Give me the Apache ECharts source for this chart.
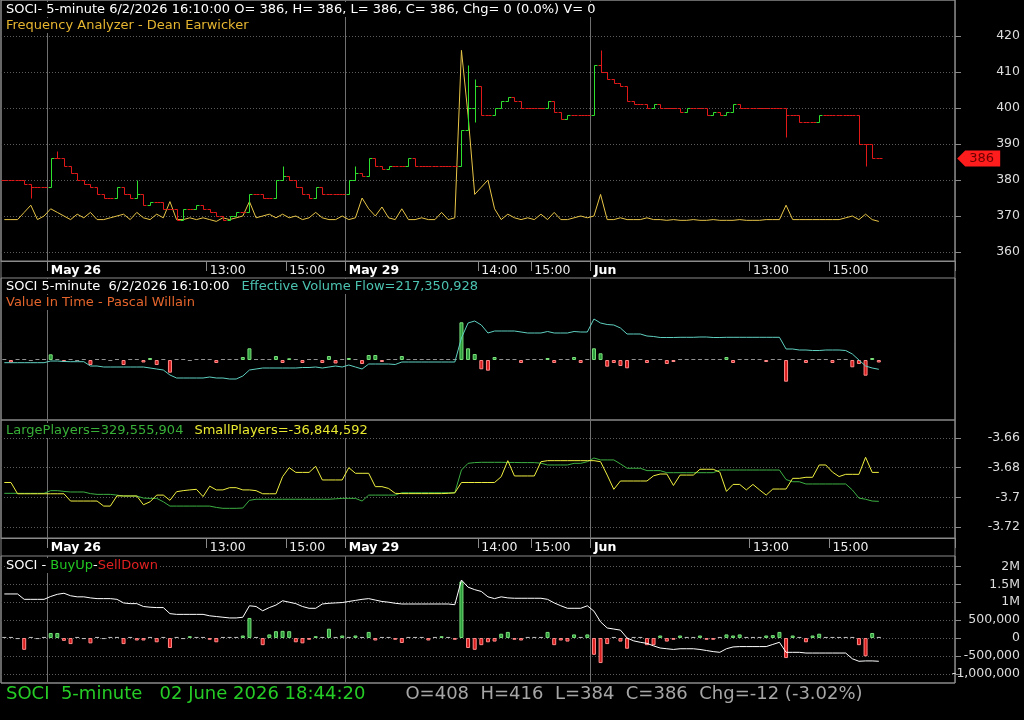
<!DOCTYPE html>
<html>
<head>
<meta charset="utf-8">
<title>SOCI 5-minute</title>
<script src="https://cdn.jsdelivr.net/npm/echarts@6/dist/echarts.min.js"></script>
<style>
  html, body { margin: 0; padding: 0; background: #000; }
  #chart { width: 1024px; height: 720px; }
</style>
</head>
<body>
<div id="chart"></div>
<script>
const chart = echarts.init(document.getElementById('chart'));

// 10-minute slots, 144 across the plot (last ones are empty space)
const slotCount = 144;
const tickSlots = [7, 31, 43, 52, 72, 80, 89, 113, 125];
const tickLabels = ['May 26', '13:00', '15:00', 'May 29', '14:00', '15:00', 'Jun', '13:00', '15:00'];
const daySlots = [7, 52, 89];

const priceTicks = [360, 370, 380, 390, 400, 410, 420];
const playerTicks = [-3.72, -3.7, -3.68, -3.66];
const flowTicks = [-1, -0.5, 0, 0.5, 1, 1.5, 2];
const flowTickLabels = ['-1,000,000', '-500,000', '0', '500,000', '1M', '1.5M', '2M'];

// price closes per slot
const closes = [
  380,380,380,379,378,378,378,386,386,384,
  382,380,379,378,376,375,375,378,376,375,
  376,373,374,374,372,372,369,372,372,373,
  372,371,370,369,370,371,371,376,376,375,
  375,380,381,380,378,376,375,378,376,376,
  376,376,380,382,381,386,384,383,384,384,
  384,386,384,384,384,384,384,384,384,394,
  400,406,398,398,400,402,403,402,400,400,
  400,400,402,399,397,398,398,398,398,412,
  410,408,407,406,402,401,401,400,401,400,
  400,400,399,400,400,400,398,399,398,399,
  401,400,400,400,400,400,400,400,398,398,
  396,396,396,398,398,398,398,398,398,390,
  390,386,386
];
const wickHigh = [[8, 388], [20, 380], [42, 384], [53, 384], [70, 412], [71, 408], [90, 416]];
const wickLow = [[4, 375], [71, 396], [118, 392], [130, 384]];

// Frequency Analyzer (price scale)
const freq = [
  369,369,369,371,373,369,370,372,371,370,
  369,370.5,369.5,371,369,369,369.5,370,370.5,369,
  371,369.5,369,370.5,369.5,374,369,369,369.5,369,
  369.5,369,368.5,369.5,369,369.5,370,374,369.5,370,
  370.5,369.5,370.5,369.5,370,369,369.5,371,369.5,369,
  369,370,369,369.5,375,372,370,372.5,369.5,369,
  372,369,369,369.5,369,369,371,369,369.5,416,
  398,376,378,380,372,369,370.5,369.5,369,369.5,
  369,370.5,369,371,369,369,369.5,370,369.5,370,
  376,369,369,369.5,369,369,369,369.5,369,369,
  368.8,369,368.8,368.8,369,368.8,368.8,369,368.8,368.8,
  368.8,369,368.8,368.8,368.8,369,369,369,373,369,
  369,369,369,369,369,369,369,369.5,370,369,
  370.5,369,368.5
];

// Effective Volume Flow (relative units) and Value In Time histogram
const evf = [
  -2.7,-2.7,-2.7,-2.7,-2.7,-2.7,-2.7,-1,-1,-1.5,
  -1.7,-1.7,-1.7,-6,-6,-7,-7,-7,-7,-7,
  -7,-7,-8,-9,-10,-15,-18,-18,-18,-18,
  -18,-17,-18,-18,-19,-19,-16,-10,-9,-8,
  -8,-8,-8,-8,-8,-7.5,-7.5,-7,-8,-7,
  -6,-7,-5,-7,-9,-4,-4,-4,-4,-4.5,
  -2,-2,-2,-2,-2,-2,-2,-2,-2,22,
  37,39,35,27,29,29,29,29,28,27,
  27,27,28.5,27,27,27,28.5,28,28,41,
  37,35.5,35,32,26,26,26,24,23.5,22.5,
  22.5,22.5,22.7,22.7,22.7,23,23,22.5,22.5,22.7,
  22.7,22.7,22.7,22.7,22.7,22.7,22.7,22.7,11,11,
  10,10,9.5,9.5,10,10,10,9.5,6,0,
  -6,-8,-9.3
];
const valueInTime = [
  0.8,-2.5,0.8,0.8,-0.8,0.8,0.8,5.7,0.8,-2,
  0.8,-0.8,0.8,-5,0.8,0.8,-0.8,0.8,-5,0.8,
  0.8,-2.5,2,-5,0.8,-12.7,0.8,0.8,-0.8,0.8,
  0.8,0.8,-3,0.8,0.8,0.8,3,11.7,0.8,0.8,
  0.8,4,-3,1.7,0.8,-3,0.8,0.8,-3,4,
  -3.5,0.8,2,0.8,-4,5,5,-2,0.8,0.8,
  4,0.8,0.8,0.8,0.8,0.8,0.8,0.8,0.8,37.7,
  11.7,6,-9.3,-10.7,3,0.8,0.8,0.8,-3,0.8,
  0.8,0.8,2,-3,0.8,0.8,3,-3,0.8,11.7,
  6.7,-6.7,-3,-6,-8.3,0.8,0.8,-3,0.8,0.8,
  -4,-2,0.8,0.8,0.8,0.8,0.8,0.8,0.8,3,
  -3,0.8,0.8,0.8,0.8,-2,0.8,0.8,-21.7,0.8,
  0.8,-3,0.8,0.8,0.8,-3,0.8,0.8,-7.3,-4,
  -15.7,2,-2.5
];

// LargePlayers / SmallPlayers
const largePlayers = [
  -3.6973,-3.6973,-3.6973,-3.6973,-3.6973,-3.6973,-3.6973,-3.6955,-3.6955,-3.696,
  -3.6964,-3.6964,-3.6964,-3.6975,-3.698,-3.698,-3.698,-3.6985,-3.6991,-3.6991,
  -3.6991,-3.7005,-3.7007,-3.7007,-3.703,-3.7059,-3.7059,-3.7059,-3.7059,-3.7059,
  -3.7059,-3.7059,-3.7068,-3.7074,-3.7074,-3.7074,-3.7072,-3.702,-3.7013,-3.7013,
  -3.7013,-3.7013,-3.7013,-3.7013,-3.7013,-3.7013,-3.7013,-3.7013,-3.7013,-3.7013,
  -3.701,-3.7007,-3.7007,-3.7007,-3.7025,-3.6985,-3.6985,-3.6985,-3.6985,-3.6985,
  -3.6969,-3.6969,-3.6969,-3.6969,-3.6969,-3.6969,-3.6969,-3.6969,-3.6969,-3.6816,
  -3.6771,-3.6766,-3.6764,-3.6764,-3.6764,-3.6764,-3.6765,-3.6765,-3.6766,-3.6766,
  -3.6766,-3.677,-3.6782,-3.6782,-3.6782,-3.6782,-3.6771,-3.6771,-3.676,-3.6735,
  -3.6748,-3.6748,-3.6748,-3.6775,-3.6804,-3.6804,-3.6804,-3.682,-3.682,-3.682,
  -3.6834,-3.6834,-3.6834,-3.6834,-3.6834,-3.6834,-3.6834,-3.6834,-3.6816,-3.6816,
  -3.6816,-3.6816,-3.6816,-3.6816,-3.6816,-3.6816,-3.6816,-3.6816,-3.688,-3.6895,
  -3.6895,-3.691,-3.691,-3.691,-3.691,-3.691,-3.691,-3.691,-3.695,-3.7005,
  -3.7013,-3.7025,-3.7027
];
const smallPlayers = [
  -3.69,-3.69,-3.6976,-3.6976,-3.6976,-3.6976,-3.6976,-3.6976,-3.6976,-3.6976,
  -3.7025,-3.7025,-3.7025,-3.7025,-3.7025,-3.7059,-3.7059,-3.699,-3.6991,-3.6991,
  -3.6991,-3.705,-3.703,-3.6985,-3.6985,-3.702,-3.6962,-3.6955,-3.695,-3.6946,
  -3.6995,-3.6925,-3.695,-3.695,-3.6935,-3.6935,-3.695,-3.695,-3.6955,-3.6976,
  -3.6976,-3.6976,-3.6861,-3.68,-3.6832,-3.6832,-3.6832,-3.6791,-3.6883,-3.6883,
  -3.6883,-3.6883,-3.68,-3.6838,-3.6838,-3.6838,-3.6928,-3.6928,-3.694,-3.6973,
  -3.6975,-3.6975,-3.6975,-3.6975,-3.6975,-3.6975,-3.6975,-3.6973,-3.697,-3.69,
  -3.69,-3.69,-3.69,-3.69,-3.69,-3.6861,-3.6753,-3.6856,-3.6856,-3.6856,
  -3.6856,-3.676,-3.6753,-3.6753,-3.6753,-3.6753,-3.6753,-3.6753,-3.6753,-3.6753,
  -3.676,-3.685,-3.6946,-3.689,-3.689,-3.689,-3.689,-3.689,-3.6855,-3.6843,
  -3.6843,-3.692,-3.685,-3.685,-3.685,-3.6811,-3.6811,-3.6811,-3.683,-3.696,
  -3.6913,-3.6913,-3.695,-3.6913,-3.695,-3.6985,-3.6944,-3.6944,-3.6944,-3.6872,
  -3.6872,-3.6865,-3.6865,-3.6782,-3.6782,-3.683,-3.686,-3.6845,-3.6845,-3.6845,
  -3.673,-3.6832,-3.6832
];

// BuyUp-SellDown (millions): cumulative line and per-slot histogram
const buyLine = [
  1.23,1.23,1.23,1.08,1.08,1.08,1.08,1.16,1.22,1.25,
  1.18,1.15,1.15,1.12,1.1,1.1,1.1,1.08,0.98,0.96,
  0.96,0.88,0.86,0.85,0.85,0.68,0.66,0.66,0.66,0.66,
  0.66,0.62,0.6,0.58,0.56,0.56,0.58,0.9,0.88,0.76,
  0.85,0.92,1.04,1.0,0.96,0.88,0.83,0.83,0.95,0.97,
  0.98,0.99,1.02,1.05,1.08,1.1,1.06,1.02,1.0,0.97,
  0.95,0.95,0.95,0.95,0.95,0.95,0.95,0.95,0.93,1.62,
  1.42,1.35,1.3,1.15,1.1,1.15,1.12,1.11,1.11,1.11,
  1.11,1.11,1.08,0.98,0.9,0.83,0.83,0.83,0.9,0.75,
  0.45,0.28,0.25,0.22,0.0,-0.08,-0.12,-0.15,-0.22,-0.28,
  -0.3,-0.32,-0.3,-0.3,-0.3,-0.32,-0.35,-0.38,-0.4,-0.3,
  -0.25,-0.24,-0.24,-0.24,-0.24,-0.24,-0.18,-0.12,-0.4,-0.4,
  -0.4,-0.42,-0.42,-0.42,-0.42,-0.42,-0.42,-0.42,-0.58,-0.65,
  -0.64,-0.64,-0.65
];
const buySell = [
  0.03,0.03,-0.03,-0.33,0.03,-0.03,0.03,0.14,0.14,-0.08,
  -0.17,0.03,-0.03,-0.15,0.03,-0.03,0.03,0.03,-0.17,0.03,
  -0.07,-0.07,0.03,-0.12,0.03,-0.28,0.03,-0.03,0.05,0.03,
  0.03,-0.05,-0.12,0.03,0.03,0.03,0.07,0.56,0.03,-0.2,
  0.1,0.19,0.2,0.19,-0.12,-0.15,-0.05,0.05,0.03,0.26,
  0.03,0.07,0.03,0.07,0.03,0.17,-0.07,0.03,0.03,-0.05,
  -0.14,0.03,0.03,0.03,-0.07,0.03,0.05,0.03,-0.05,1.58,
  -0.28,-0.33,-0.2,-0.12,-0.1,0.12,0.17,-0.05,-0.07,0.03,
  0.03,0.03,0.17,-0.2,-0.07,-0.1,0.1,0.03,0.1,-0.47,
  -0.7,-0.17,0.03,-0.1,-0.3,0.03,0.03,-0.2,-0.2,0.07,
  -0.1,-0.05,0.07,0.03,0.03,0.07,-0.05,-0.05,0.03,0.1,
  0.07,0.1,0.03,0.03,0.03,0.07,0.08,0.17,-0.56,0.07,
  0.03,-0.12,0.07,0.12,0.03,0.03,0.03,0.03,0.03,-0.2,
  -0.51,0.14,0.03
];

const FONT = 'DejaVu Sans';
const UP = '#2ee02e';
const DOWN = '#e01818';
const GRID_LINE = { color: '#5c5c5c', type: [1, 2] };
const BORDER = '#8a8a8a';

const slots = Array.from({ length: slotCount }, (_, i) => String(i));

// OHLC bars: open at previous close, wicks where the picture shows them
const ohlc = closes.map((c, i) => {
  const o = i === 0 ? c : closes[i - 1];
  let lo = Math.min(o, c), hi = Math.max(o, c);
  wickHigh.forEach(([k, v]) => { if (k === i) hi = Math.max(hi, v); });
  wickLow.forEach(([k, v]) => { if (k === i) lo = Math.min(lo, v); });
  return [i, o, c, lo, hi];
});
const lastClose = closes[closes.length - 1];

function crisp(v) { return Math.round(v) + 0.5; }

function renderBar(params, api) {
  const i = api.value(0);
  const o = api.value(1), c = api.value(2), lo = api.value(3), hi = api.value(4);
  const half = Math.round(api.size([1, 0])[0] / 2);
  const x = crisp(api.coord([i, c])[0]);
  const yo = crisp(api.coord([i, o])[1]);
  const yc = crisp(api.coord([i, c])[1]);
  const yl = crisp(api.coord([i, lo])[1]);
  const yh = crisp(api.coord([i, hi])[1]);
  const style = { stroke: c > o ? UP : DOWN, lineWidth: 1 };
  return {
    type: 'group',
    children: [
      { type: 'line', shape: { x1: x, y1: yl, x2: x, y2: yh }, style },
      { type: 'line', shape: { x1: x - half, y1: yo, x2: x, y2: yo }, style },
      { type: 'line', shape: { x1: x, y1: yc, x2: x + half, y2: yc }, style }
    ]
  };
}

function histItems(values, threshold) {
  return values.map(v => {
    let itemStyle;
    if (v > threshold) itemStyle = { color: '#2a9a3a', borderColor: '#7be07b', borderWidth: 1 };
    else if (v < -threshold) itemStyle = { color: '#d81c1c', borderColor: '#ff8a8a', borderWidth: 1 };
    else itemStyle = { color: '#b8b8b8' };
    return { value: v, itemStyle };
  });
}

function xAxisFor(gridIndex, labeled) {
  return {
    gridIndex,
    type: 'category',
    data: slots,
    boundaryGap: true,
    axisLine: { show: labeled, lineStyle: { color: BORDER } },
    axisTick: {
      show: labeled,
      interval: (i) => tickSlots.includes(i),
      length: 10,
      lineStyle: { color: BORDER }
    },
    axisLabel: {
      show: labeled,
      interval: (i) => tickSlots.includes(i),
      align: 'left',
      margin: 3,
      formatter: (val, i) => {
        const k = tickSlots.indexOf(+val);
        if (k < 0) return '';
        return daySlots.includes(+val) ? '{d|' + tickLabels[k] + '}' : '{t|' + tickLabels[k] + '}';
      },
      rich: {
        d: { color: '#ffffff', fontFamily: FONT, fontSize: 12.5, fontWeight: 'bold' },
        t: { color: '#ececec', fontFamily: FONT, fontSize: 12.5 }
      }
    },
    splitLine: {
      show: true,
      interval: (i) => daySlots.includes(i),
      lineStyle: { color: '#707070', width: 1 }
    }
  };
}

function rightAxis(gridIndex, min, max, ticks, formatter) {
  return {
    gridIndex,
    type: 'value',
    position: 'right',
    min, max,
    axisLine: { show: false },
    axisTick: { show: true, customValues: ticks, length: 6, lineStyle: { color: BORDER } },
    axisLabel: {
      customValues: ticks,
      color: '#dddddd',
      fontFamily: FONT,
      fontSize: 12.5,
      align: 'right',
      margin: 65,
      formatter
    },
    splitLine: { show: true, lineStyle: GRID_LINE }
  };
}

function titleLine(top, text, rich, fontSize) {
  return {
    left: 6, top, padding: [1, 2, 1, 0],
    backgroundColor: '#000',
    text,
    textStyle: { fontFamily: FONT, fontSize: fontSize || 13, fontWeight: 'normal', rich }
  };
}

const T = (color, extra) => Object.assign({ color, fontFamily: FONT, fontSize: 13 }, extra || {});

chart.setOption({
  backgroundColor: '#000',
  animation: false,
  title: [
    titleLine(2, '{w|SOCI- 5-minute 6/2/2026 16:10:00 O= 386, H= 386, L= 386, C= 386, Chg= 0 (0.0%) V= 0}', { w: T('#ffffff') }),
    titleLine(18, '{y|Frequency Analyzer - Dean Earwicker}', { y: T('#e6b530') }),
    titleLine(279, '{w|SOCI 5-minute  6/2/2026 16:10:00}{c|Effective Volume Flow=217,350,928}',
      { w: T('#ffffff'), c: T('#4cc2b0', { padding: [0, 0, 0, 12] }) }),
    titleLine(295, '{o|Value In Time - Pascal Willain}', { o: T('#e4652c') }),
    titleLine(423, '{g|LargePlayers=329,555,904}{y|SmallPlayers=-36,844,592}',
      { g: T('#38b038'), y: T('#e8e830', { padding: [0, 0, 0, 11] }) }),
    titleLine(558, '{w|SOCI - }{g|BuyUp}{w|-}{r|SellDown}',
      { w: T('#ffffff'), g: T('#22c822'), r: T('#e02020') }),
    titleLine(684, '{g|SOCI  5-minute   02 June 2026 18:44:20}{s|O=408  H=416  L=384  C=386  Chg=-12 (-3.02%)}',
      { g: T('#26cc26', { fontSize: 18 }), s: T('#a6a6a6', { fontSize: 18, padding: [0, 0, 0, 40] }) }, 18)
  ],
  grid: [
    { left: 1, right: 69, top: 0, height: 261, show: true, borderColor: BORDER, backgroundColor: 'transparent' },
    { left: 1, right: 69, top: 278, height: 142, show: true, borderColor: BORDER, backgroundColor: 'transparent' },
    { left: 1, right: 69, top: 420, height: 118, show: true, borderColor: BORDER, backgroundColor: 'transparent' },
    { left: 1, right: 69, top: 556, height: 127, show: true, borderColor: BORDER, backgroundColor: 'transparent' },
    { left: 1, right: 69, top: 0, height: 683, show: true, borderColor: BORDER, backgroundColor: 'transparent' }
  ],
  xAxis: [
    xAxisFor(0, true),
    xAxisFor(1, false),
    xAxisFor(2, true),
    xAxisFor(3, false),
    { gridIndex: 4, type: 'value', show: false }
  ],
  yAxis: [
    rightAxis(0, 357.5, 430, priceTicks, v => String(Math.round(v))),
    { gridIndex: 1, type: 'value', min: -60, max: 82, show: false },
    rightAxis(2, -3.7274, -3.6479, playerTicks, v => String(+(+v).toFixed(2))),
    rightAxis(3, -1.257, 2.2905, flowTicks, v => {
      let best = 0;
      flowTicks.forEach((t, k) => { if (Math.abs(t - v) < Math.abs(flowTicks[best] - v)) best = k; });
      return flowTickLabels[best];
    }),
    { gridIndex: 4, type: 'value', show: false }
  ],
  series: [
    {
      name: 'SOCI',
      type: 'custom',
      xAxisIndex: 0, yAxisIndex: 0,
      renderItem: renderBar,
      encode: { x: 0, y: [1, 2, 3, 4] },
      data: ohlc,
      z: 3
    },
    {
      name: 'Frequency Analyzer',
      type: 'line',
      xAxisIndex: 0, yAxisIndex: 0,
      data: freq,
      symbol: 'none',
      lineStyle: { color: '#e8c547', width: 1 },
      z: 2,
      markPoint: {
        silent: true,
        symbol: 'path://M0,8 L8,0 L43,0 L43,16 L8,16 Z',
        symbolSize: [43, 16],
        symbolOffset: [27, 0],
        itemStyle: { color: '#ff1c1c' },
        label: {
          show: true, position: 'inside', offset: [3, 0],
          color: '#6a0000', fontFamily: FONT, fontSize: 13,
          formatter: String(lastClose)
        },
        data: [{ coord: [slotCount - 1, lastClose], value: lastClose }]
      }
    },
    {
      name: 'Value In Time',
      type: 'bar',
      xAxisIndex: 1, yAxisIndex: 1,
      data: histItems(valueInTime, 1),
      barWidth: 4
    },
    {
      name: 'Effective Volume Flow',
      type: 'line',
      xAxisIndex: 1, yAxisIndex: 1,
      data: evf,
      symbol: 'none',
      lineStyle: { color: '#5fd0c0', width: 1 },
      z: 3
    },
    {
      name: 'LargePlayers',
      type: 'line',
      xAxisIndex: 2, yAxisIndex: 2,
      data: largePlayers,
      symbol: 'none',
      lineStyle: { color: '#3cb043', width: 1 }
    },
    {
      name: 'SmallPlayers',
      type: 'line',
      xAxisIndex: 2, yAxisIndex: 2,
      data: smallPlayers,
      symbol: 'none',
      lineStyle: { color: '#f0f040', width: 1 }
    },
    {
      name: 'BuyUp-SellDown',
      type: 'bar',
      xAxisIndex: 3, yAxisIndex: 3,
      data: histItems(buySell, 0.04),
      barWidth: 4
    },
    {
      name: 'BuyUp-SellDown line',
      type: 'line',
      xAxisIndex: 3, yAxisIndex: 3,
      data: buyLine,
      symbol: 'none',
      lineStyle: { color: '#ffffff', width: 1 },
      z: 3
    }
  ]
});
</script>
</body>
</html>
